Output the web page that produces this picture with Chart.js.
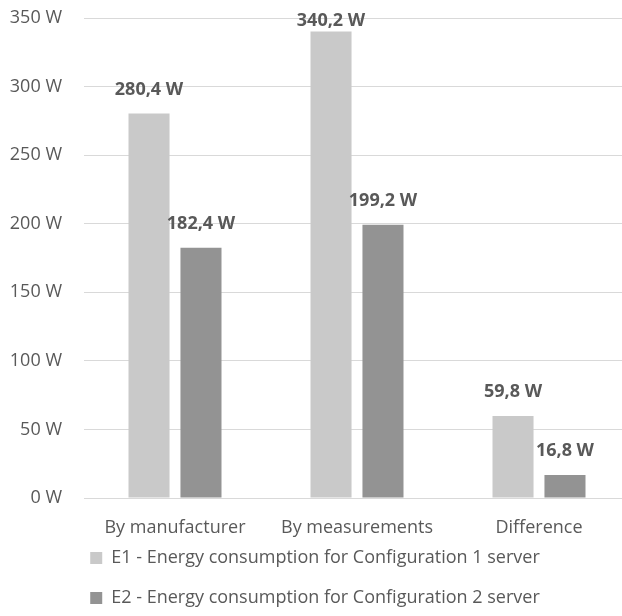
<!DOCTYPE html>
<html><head><meta charset="utf-8">
<script src="https://cdn.jsdelivr.net/npm/chart.js@4.4.0/dist/chart.umd.min.js"></script>
<style>html,body{margin:0;padding:0;overflow:hidden;background:#fff;width:622px;height:616px}</style>
</head><body>
<canvas id="c" width="630" height="616"></canvas>
<script>
const categories = ["By manufacturer", "By measurements", "Difference"];
const seriesNames = ["E1 - Energy consumption for Configuration 1 server", "E2 - Energy consumption for Configuration 2 server"];
const e1Values = [280.4, 340.2, 59.8];
const e2Values = [182.4, 199.2, 16.8];
const yTicks = [0, 50, 100, 150, 200, 250, 300, 350];

const FONT = "'Open Sans', sans-serif";
const FS = 18;
const TXT = '#595959';
const fmt = v => v.toFixed(1).replace('.', ',') + ' W';

const labelPlugin = {
  id: 'vlabels',
  afterLayout(chart) {
    const lg = chart.legend;
    if (lg) { lg.top = 527; lg.bottom = 616; lg.height = 89; }
  },
  afterDatasetsDraw(chart) {
    const ctx = chart.ctx;
    ctx.save();
    ctx.font = "bold " + FS + "px " + FONT;
    ctx.fillStyle = TXT;
    ctx.textAlign = 'center';
    ctx.textBaseline = 'middle';
    chart.data.datasets.forEach((ds, di) => {
      chart.getDatasetMeta(di).data.forEach((bar, i) => {
        const y = Math.max(bar.y - 24, 21);
        ctx.fillText(fmt(ds.data[i]), bar.x, y);
      });
    });
    ctx.restore();
  }
};

new Chart(document.getElementById('c'), {
  type: 'bar',
  data: {
    labels: categories,
    datasets: [
      { label: seriesNames[0], data: e1Values, backgroundColor: '#c9c9c9' },
      { label: seriesNames[1], data: e2Values, backgroundColor: '#939393' }
    ]
  },
  options: {
    responsive: false,
    animation: false,
    devicePixelRatio: 1,
    layout: { padding: { top: 18, left: 0, right: 0, bottom: 0 } },
    datasets: { bar: { categoryPercentage: 0.571, barPercentage: 0.79 } },
    scales: {
      x: {
        afterFit(s) { s.height = 41; },
        grid: { display: false },
        border: { display: false },
        ticks: { color: TXT, font: { family: FONT, size: FS }, padding: 11 }
      },
      y: {
        min: 0, max: 350,
        afterFit(s) { s.width = 84; s.paddingTop = 0; s.paddingBottom = 0; },
        afterBuildTicks(s) { s.ticks = yTicks.map(v => ({ value: v })); },
        grid: { color: '#d9d9d9', lineWidth: 1, drawTicks: false },
        border: { display: false },
        ticks: { color: TXT, font: { family: FONT, size: FS }, padding: 22, callback: v => v + ' W' }
      }
    },
    plugins: {
      tooltip: { enabled: false },
      legend: {
        position: 'bottom',
        maxHeight: 77,
        labels: { color: TXT, font: { family: FONT, size: FS }, boxWidth: 12, boxHeight: 12, padding: 22 }
      }
    }
  },
  plugins: [labelPlugin]
});
</script>
</body></html>
